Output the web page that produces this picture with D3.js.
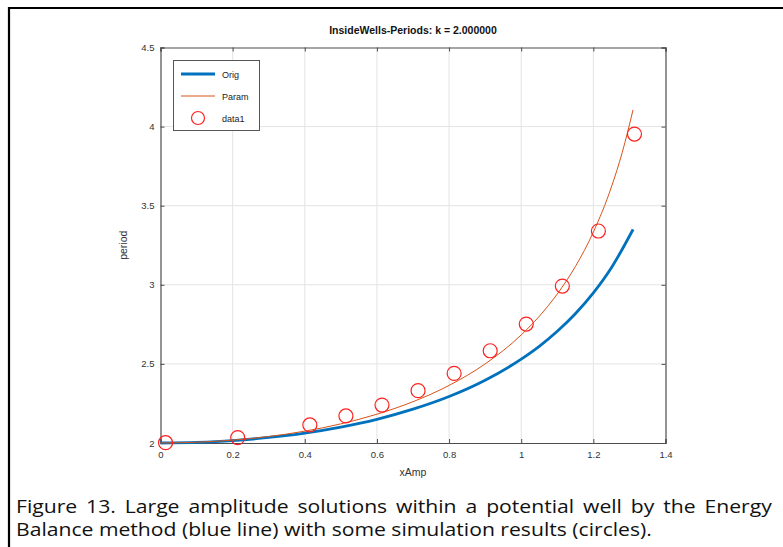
<!DOCTYPE html>
<html><head><meta charset="utf-8">
<script src="https://cdn.jsdelivr.net/npm/d3@7"></script>
<style>html,body{margin:0;padding:0;background:#fff;}svg{display:block;}</style>
</head><body>
<svg id="chart" width="783" height="547"></svg>
<script>
const title = "InsideWells-Periods: k = 2.000000";
const xLabel = "xAmp";
const yLabel = "period";
const xTicks = [0, 0.2, 0.4, 0.6, 0.8, 1, 1.2, 1.4];
const yTicks = [2, 2.5, 3, 3.5, 4, 4.5];
const legendNames = ["Orig", "Param", "data1"];

const origX = [0, 0.1, 0.2, 0.3, 0.4, 0.5, 0.6, 0.7, 0.8, 0.9, 1.0, 1.05, 1.1, 1.15, 1.2, 1.25, 1.31];
const origY = [2.0, 2.004, 2.015, 2.035, 2.063, 2.101, 2.150, 2.214, 2.294, 2.397, 2.530, 2.611, 2.706, 2.817, 2.949, 3.108, 3.35];

const paramX = [0, 0.1, 0.2, 0.3, 0.4, 0.5, 0.6, 0.7, 0.8, 0.9, 1.0, 1.05, 1.1, 1.15, 1.2, 1.25, 1.28, 1.31];
const paramY = [2.0, 2.005, 2.018, 2.041, 2.075, 2.121, 2.182, 2.261, 2.364, 2.5, 2.683, 2.801, 2.942, 3.115, 3.333, 3.618, 3.836, 4.106];

const dataX = [0.014, 0.214, 0.414, 0.514, 0.614, 0.714, 0.814, 0.914, 1.014, 1.114, 1.214, 1.314];
const dataY = [2.002, 2.034, 2.114, 2.171, 2.240, 2.331, 2.44, 2.583, 2.752, 2.992, 3.34, 3.953];

const caption1 = "Figure 13. Large amplitude solutions within a potential well by the Energy";
const caption2 = "Balance method (blue line) with some simulation results (circles).";

const svg = d3.select("#chart");
const L = 160.5, R = 665.5, T = 47.5, B = 443;
const x = d3.scaleLinear().domain([0, 1.4]).range([L, R]);
const y = d3.scaleLinear().domain([2, 4.5]).range([B, T]);

// document frame lines
svg.append("line").attr("x1", 8).attr("x2", 783).attr("y1", 8).attr("y2", 8).attr("stroke", "#000").attr("stroke-width", 2.2);
svg.append("line").attr("x1", 9).attr("x2", 9).attr("y1", 7).attr("y2", 547).attr("stroke", "#000").attr("stroke-width", 2.2);

// grid
const g = svg.append("g");
g.selectAll(".vg").data(xTicks.slice(1, -1)).join("line")
  .attr("x1", d => x(d)).attr("x2", d => x(d)).attr("y1", T).attr("y2", B)
  .attr("stroke", "#e3e3e3").attr("stroke-width", 1);
g.selectAll(".hg").data(yTicks.slice(1, -1)).join("line")
  .attr("x1", L).attr("x2", R).attr("y1", d => y(d)).attr("y2", d => y(d))
  .attr("stroke", "#e3e3e3").attr("stroke-width", 1);

// axes
const axisColor = "#4d4d4d";
const fontFam = "'Liberation Sans', Arial, sans-serif";
const xAx = svg.append("g").attr("transform", `translate(0,${B})`)
  .call(d3.axisBottom(x).tickValues(xTicks).tickSize(-4).tickPadding(8).tickFormat(d3.format("~g")));
const xAxTop = svg.append("g").attr("transform", `translate(0,${T})`)
  .call(d3.axisTop(x).tickValues(xTicks).tickSize(-4).tickFormat(""));
const yAx = svg.append("g").attr("transform", `translate(${L},0)`)
  .call(d3.axisLeft(y).tickValues(yTicks).tickSize(-4).tickPadding(6).tickFormat(d3.format("~g")));
const yAxR = svg.append("g").attr("transform", `translate(${R},0)`)
  .call(d3.axisRight(y).tickValues(yTicks).tickSize(-4).tickFormat(""));
[xAx, xAxTop, yAx, yAxR].forEach(a => {
  a.select(".domain").attr("stroke", axisColor).attr("stroke-width", 1.2);
  a.selectAll(".tick line").attr("stroke", axisColor);
  a.selectAll(".tick text").attr("fill", "#333").attr("font-size", 9.5).attr("font-family", fontFam);
});
xAx.selectAll(".tick text").attr("dy", "0.71em");

// lines
const lineGen = d3.line().x(d => x(d[0])).y(d => y(d[1])).curve(d3.curveMonotoneX);
svg.append("path").datum(origX.map((v, i) => [v, origY[i]]))
  .attr("d", lineGen).attr("fill", "none").attr("stroke", "#0072BD").attr("stroke-width", 2.8);
svg.append("path").datum(paramX.map((v, i) => [v, paramY[i]]))
  .attr("d", lineGen).attr("fill", "none").attr("stroke", "#D95319").attr("stroke-width", 1);
svg.selectAll(".pt").data(dataX.map((v, i) => [v, dataY[i]])).join("circle")
  .attr("cx", d => x(d[0])).attr("cy", d => y(d[1])).attr("r", 7)
  .attr("fill", "none").attr("stroke", "#ff2020").attr("stroke-width", 1.2);

// title and labels
svg.append("text").attr("x", (L + R) / 2).attr("y", 34).attr("text-anchor", "middle")
  .attr("font-family", fontFam).attr("font-weight", "bold").attr("font-size", 10.5).attr("fill", "#111").text(title);
svg.append("text").attr("x", (L + R) / 2).attr("y", 476).attr("text-anchor", "middle")
  .attr("font-family", fontFam).attr("font-size", 10.5).attr("fill", "#333").text(xLabel);
svg.append("text").attr("transform", `translate(127,${(T + B) / 2}) rotate(-90)`).attr("text-anchor", "middle")
  .attr("font-family", fontFam).attr("font-size", 10.5).attr("fill", "#333").text(yLabel);

// legend
const lg = svg.append("g");
lg.append("rect").attr("x", 173.5).attr("y", 60.5).attr("width", 86).attr("height", 70)
  .attr("fill", "#fff").attr("stroke", "#555").attr("stroke-width", 1);
const ly = [74, 96, 118];
lg.append("line").attr("x1", 181).attr("x2", 215).attr("y1", ly[0]).attr("y2", ly[0]).attr("stroke", "#0072BD").attr("stroke-width", 2.8);
lg.append("line").attr("x1", 181).attr("x2", 215).attr("y1", ly[1]).attr("y2", ly[1]).attr("stroke", "#D95319").attr("stroke-width", 1);
lg.append("circle").attr("cx", 198).attr("cy", ly[2]).attr("r", 6.5).attr("fill", "none").attr("stroke", "#ff2020").attr("stroke-width", 1.2);
lg.selectAll(".lt").data(legendNames).join("text")
  .attr("x", 222).attr("y", (d, i) => ly[i] + 3.5)
  .attr("font-family", fontFam).attr("font-size", 9).attr("fill", "#222").text(d => d);

// caption (justified first line, natural second line)
const capFont = "'Open Sans', Lato, sans-serif";
const capSize = 18;
const c2 = svg.append("text").attr("font-family", capFont).attr("font-size", capSize).attr("fill", "#111").text(caption2);
const w2 = c2.node().getComputedTextLength();
const s = 636 / w2;
c2.attr("transform", `translate(16,536) scale(${s},1)`);
const c1 = svg.append("text").attr("font-family", capFont).attr("font-size", capSize).attr("fill", "#111").text(caption1);
const w1 = c1.node().getComputedTextLength();
const nSp = caption1.split(" ").length - 1;
const ws = (756 / s - w1) / nSp;
c1.attr("word-spacing", ws).attr("transform", `translate(16,513) scale(${s},1)`);
</script>
</body></html>
